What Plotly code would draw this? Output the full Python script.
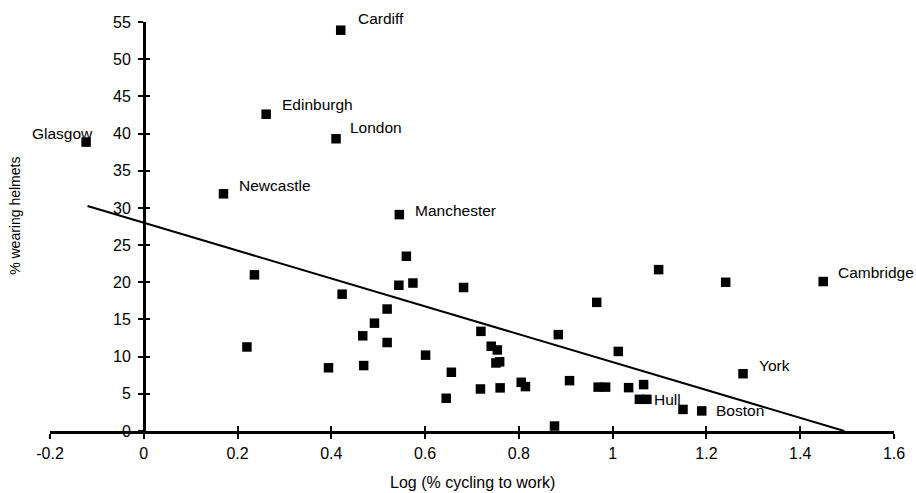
import plotly.graph_objects as go

# ---- data ----
log_cycling = [-0.123, 0.42, 0.261, 0.41, 0.17, 0.545, 0.236, 0.22, 0.423, 0.394,
               0.467, 0.469, 0.492, 0.519, 0.519, 0.544, 0.56, 0.574, 0.601, 0.656,
               0.645, 0.682, 0.719, 0.718, 0.741, 0.754, 0.751, 0.759, 0.760, 0.805,
               0.814, 0.876, 0.884, 0.908, 0.966, 0.969, 0.985, 1.012, 1.034, 1.066,
               1.057, 1.073, 1.098, 1.150, 1.19, 1.241, 1.278, 1.449]
pct_helmets = [38.85, 53.9, 42.6, 39.3, 31.9, 29.1, 21.0, 11.3, 18.4, 8.5,
               12.8, 8.8, 14.5, 16.4, 11.9, 19.6, 23.5, 19.9, 10.2, 7.9,
               4.4, 19.3, 13.4, 5.65, 11.4, 10.9, 9.15, 9.3, 5.8, 6.55,
               5.97, 0.67, 12.96, 6.77, 17.3, 5.9, 5.9, 10.7, 5.83, 6.24,
               4.26, 4.26, 21.7, 2.9, 2.7, 20.0, 7.7, 20.1]
city_labels = ["Glasgow", "Cardiff", "Edinburgh", "London", "Newcastle", "Manchester"] + [""] * 35 + \
              ["Hull", "", "", "Boston", "", "York", "Cambridge"]

trend_x = [-0.12, 1.494]
trend_y = [30.25, 0.0]

x_tick_vals = [-0.2, 0, 0.2, 0.4, 0.6, 0.8, 1.0, 1.2, 1.4, 1.6]
x_tick_text = ["-0.2", "0", "0.2", "0.4", "0.6", "0.8", "1", "1.2", "1.4", "1.6"]
y_tick_vals = [0, 5, 10, 15, 20, 25, 30, 35, 40, 45, 50, 55]
y_tick_text = ["0", "5", "10", "15", "20", "25", "30", "35", "40", "45", "50", "55"]

x_title = "Log (% cycling to work)"
y_title = "% wearing helmets"

# ---- styles ----
FONT = "Liberation Sans, Arial, sans-serif"
FS = 16
LABEL_FS = 15.5
label_offsets = {  # (xanchor, xshift, yshift) in pixels
    "Glasgow": ("right", 9, 9),
    "Cardiff": ("left", 15, 12),
    "Edinburgh": ("left", 14, 10),
    "London": ("left", 12, 11),
    "Newcastle": ("left", 14, 8),
    "Manchester": ("left", 14, 4),
    "Hull": ("left", 5, 0),
    "Boston": ("left", 12, 0),
    "York": ("left", 14, 8),
    "Cambridge": ("left", 13, 9),
}

x_range = [x_tick_vals[0], x_tick_vals[-1]]
y_range = [y_tick_vals[0], y_tick_vals[-1]]
yaxis_pos = (0 - x_range[0]) / (x_range[1] - x_range[0])

fig = go.Figure()
fig.add_trace(go.Scatter(
    x=trend_x, y=trend_y, mode="lines",
    line=dict(color="black", width=2), hoverinfo="skip", showlegend=False))
fig.add_trace(go.Scatter(
    x=log_cycling, y=pct_helmets, mode="markers",
    marker=dict(symbol="square", size=9.5, color="black", line=dict(width=0)),
    showlegend=False))
# invisible trace on the overlay axes (used for the inner half of the cross ticks)
fig.add_trace(go.Scatter(
    x=log_cycling, y=pct_helmets, mode="markers", xaxis="x2", yaxis="y2",
    marker=dict(opacity=0), hoverinfo="skip", showlegend=False))

for xv, yv, lab in zip(log_cycling, pct_helmets, city_labels):
    if not lab:
        continue
    anchor, xs, ys = label_offsets[lab]
    fig.add_annotation(x=xv, y=yv, text=lab, showarrow=False,
                       xanchor=anchor, yanchor="middle", xshift=xs, yshift=ys,
                       font=dict(family=FONT, size=LABEL_FS, color="black"))

axis_common = dict(showgrid=False, zeroline=False, linecolor="black",
                   tickcolor="black", tickwidth=2, ticklen=5, automargin=False)

fig.update_layout(
    width=916, height=493,
    margin=dict(l=50, r=22, t=22, b=62),
    paper_bgcolor="white", plot_bgcolor="white",
    font=dict(family=FONT, size=FS, color="black"),
    xaxis=dict(range=x_range, tickvals=x_tick_vals, ticktext=x_tick_text,
               ticks="outside", showline=True, linewidth=2.5, anchor="y",
               ticklabelstandoff=1, **axis_common),
    yaxis=dict(range=y_range, tickvals=y_tick_vals, ticktext=y_tick_text,
               ticks="outside", showline=True, linewidth=2.5,
               anchor="free", position=yaxis_pos, ticklabelstandoff=4,
               **axis_common),
    xaxis2=dict(range=x_range, tickvals=x_tick_vals, overlaying="x", anchor="y",
                ticks="inside", showticklabels=False, showline=False, **axis_common),
    yaxis2=dict(range=y_range, tickvals=y_tick_vals, overlaying="y",
                anchor="free", position=yaxis_pos,
                ticks="inside", showticklabels=False, showline=False, **axis_common),
)

fig.add_annotation(x=0.5, y=-0.127, xref="paper", yref="paper",
                   text=x_title, showarrow=False,
                   xanchor="center", yanchor="middle",
                   font=dict(family=FONT, size=FS, color="black"))
fig.add_annotation(x=-0.0415, y=0.526, xref="paper", yref="paper",
                   text=y_title, textangle=-90, showarrow=False,
                   xanchor="center", yanchor="middle",
                   font=dict(family=FONT, size=14, color="black"))

fig.write_html("out.html", config={"displayModeBar": False},
               post_script="document.body.style.margin='0';document.body.style.overflow='hidden';")
